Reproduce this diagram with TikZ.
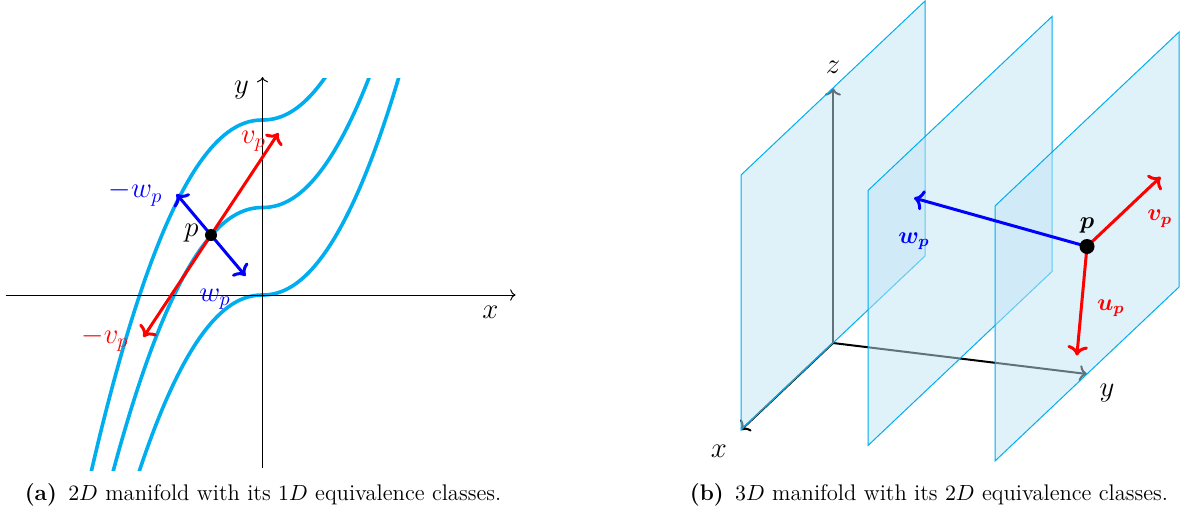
\documentclass[tikz,border=0pt]{standalone}
\usepackage{amsmath}
\usepackage{bm}
\usetikzlibrary{arrows.meta, calc, positioning}
\definecolor{mfCyan}{HTML}{00AEEF}
\definecolor{mfPlane}{HTML}{C0E4F4}
\tikzset{
  axisline/.style  = {->, line width=0.5pt, black},
  axisthree/.style = {->, line width=1pt, black},
  leafcurve/.style = {mfCyan, line width=1.8pt},
  vecred/.style    = {->, red, line width=1.5pt},
  vecblue/.style   = {->, blue, line width=1.5pt},
  pdot/.style      = {circle, fill=black, inner sep=0pt, minimum size=6pt},
  leafplane/.style = {draw=mfCyan, line width=0.5pt, fill=mfPlane, fill opacity=0.5},
  lbl/.style       = {font=\Large},
  blbl/.style      = {font=\large},
  caplbl/.style    = {font=\fontsize{11.3}{13.6}\selectfont, anchor=base},
}
\begin{document}
\begin{tikzpicture}[x=0.5pt, y=0.5pt]
  \useasboundingbox (0,0) rectangle (1188,511);

  % (a) 2D manifold, leaves are curves
  \begin{scope}[shift={(262.5,216)}, x=25pt, y=25pt]
    \begin{scope}
      \clip (-5.2,-3.5) rectangle (5.2,4.34);
      \foreach \c in {0,1.75,3.5}
        \draw[leafcurve] plot[smooth, domain=-3.6:2.9, samples=81]
          (\x, {\c+0.53*sign(\x)*pow(abs(\x),2.1)});
    \end{scope}
    \coordinate (xa0) at (-5.14,0);
    \coordinate (xa1) at (5.06,0);
    \coordinate (ya0) at (0,-3.46);
    \coordinate (ya1) at (0,4.36);
    \draw[axisline] (xa0) -- (xa1);
    \draw[axisline] (ya0) -- (ya1);
    \node[lbl] (lxa) at (4.56,-0.35) {$x$};
    \node[lbl] (lya) at (-0.42,4.09) {$y$};
    \coordinate (pa) at (-1.03,1.2);
    \coordinate (va) at ($(pa)+(1.35,2.04)$);
    \coordinate (mva) at ($(pa)-(1.35,2.04)$);
    \coordinate (wa) at ($(pa)+(0.69,-0.82)$);
    \coordinate (mwa) at ($(pa)-(0.69,-0.82)$);
    \draw[vecred] (pa) -- (va);
    \draw[vecred] (pa) -- (mva);
    \draw[vecblue] (pa) -- (wa);
    \draw[vecblue] (pa) -- (mwa);
    \node[pdot] (dota) at (pa) {};
    \node[lbl] (lpa) at (-1.42,1.23) {$p$};
    \node[lbl, red] (lva) at (-0.18,3.07) {$v_p$};
    \node[lbl, red] (lmva) at (-3.15,-0.88) {$-v_p$};
    \node[lbl, blue] (lwa) at (-0.95,-0.08) {$w_p$};
    \node[lbl, blue] (lmwa) at (-2.54,2.03) {$-w_p$};
  \end{scope}

  % (b) 3D manifold, leaves are planes
  \begin{scope}[shift={(833,168)}, x={(-46pt,-43.5pt)}, y={(63.5pt,-7.75pt)}, z={(0pt,127.5pt)}]
    \coordinate (ob) at (0,0,0);
    \coordinate (xb) at (1,0,0);
    \coordinate (yb) at (0,2,0);
    \coordinate (zb) at (0,0,1);
    \draw[axisthree] (ob) -- (xb);
    \draw[axisthree] (ob) -- (yb);
    \draw[axisthree] (ob) -- (zb);
    \foreach \k in {0,1,2}
      \draw[leafplane] (1,\k,0) -- (1,\k,1) -- (-1,\k,1) -- (-1,\k,0) -- cycle;
    \node[lbl] (lxb) at (1.24,0,0) {$x$};
    \node[lbl] (lyb) at (0.17,2.28,0) {$y$};
    \node[lbl] (lzb) at (0,0,1.08) {$z$};
    \coordinate (pb) at (0,2,0.5);
    \coordinate (vb) at (-0.8,2,0.5);
    \coordinate (ub) at (0.11,2,0.11);
    \coordinate (wb) at (0.5,1,0.8);
    \draw[vecblue] (pb) -- (wb);
    \draw[vecred] (pb) -- (vb);
    \draw[vecred] (pb) -- (ub);
    \node[pdot, minimum size=7.5pt] (dotb) at (pb) {};
    \node[blbl, above=-1pt of dotb] (lpb) {$\boldsymbol{p}$};
    \node[blbl, red] (lvb) at (-0.79,2,0.34) {$\boldsymbol{v_p}$};
    \node[blbl, red] (lub) at (-0.26,2,0.17) {$\boldsymbol{u_p}$};
    \node[blbl, blue] (lwb) at (0.5,1,0.63) {$\boldsymbol{w_p}$};
  \end{scope}

  % captions
  \node[caplbl] (capa) at (263,10.3) {\textbf{(a)}\enspace$2D$ manifold with its $1D$ equivalence classes.};
  \node[caplbl] (capb) at (929,10.3) {\textbf{(b)}\enspace$3D$ manifold with its $2D$ equivalence classes.};
\end{tikzpicture}
\end{document}
